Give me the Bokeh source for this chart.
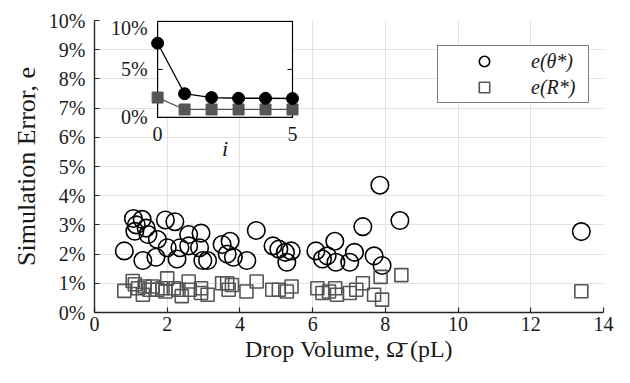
import math
from bokeh.plotting import figure
from bokeh.models import (Range1d, PrintfTickFormatter, FixedTicker, Legend, LegendItem,
                          LabelSet, ColumnDataSource)
from bokeh.core.properties import value
from bokeh.embed import file_html
from bokeh.resources import INLINE

# ---- data ----
theta_x = [0.82, 1.07, 1.31, 1.15, 1.11, 1.42, 1.47, 1.33, 1.73, 1.69, 1.95, 2.21, 2.00, 2.27, 2.35,
           2.59, 2.59, 2.93, 2.89, 2.98, 3.11, 3.51, 3.73, 3.65, 3.82, 4.19, 4.45, 4.91, 5.07, 5.25,
           5.41, 5.29, 6.09, 6.27, 6.40, 6.61, 6.64, 7.02, 7.15, 7.38, 7.69, 7.91, 7.85, 8.40, 13.39]
theta_e = [2.11, 3.22, 3.19, 3.00, 2.78, 2.89, 2.67, 1.78, 2.50, 1.89, 3.17, 3.11, 2.22, 1.83, 2.22,
           2.67, 2.28, 2.72, 2.22, 1.78, 1.78, 2.33, 2.44, 2.00, 1.89, 1.78, 2.81, 2.28, 2.17, 2.06,
           2.11, 1.72, 2.11, 1.83, 1.94, 2.44, 1.72, 1.72, 2.06, 2.94, 1.94, 1.61, 4.36, 3.15, 2.77]
r_x = [0.82, 1.05, 1.11, 1.20, 1.33, 1.38, 1.51, 1.60, 1.73, 1.87, 2.00, 1.95, 2.18, 2.31, 2.40,
       2.59, 2.62, 2.93, 2.93, 3.11, 3.51, 3.65, 3.69, 3.78, 4.18, 4.46, 4.89, 5.07, 5.29, 5.42,
       6.13, 6.27, 6.45, 6.62, 6.67, 7.02, 7.20, 7.38, 7.69, 7.87, 7.91, 8.44, 13.39]
r_e = [0.74, 1.08, 0.97, 0.83, 0.61, 0.89, 0.78, 0.89, 0.78, 0.83, 1.17, 0.72, 0.83, 0.78, 0.56,
       1.06, 0.78, 0.83, 0.67, 0.61, 1.00, 1.00, 0.78, 0.94, 0.72, 1.06, 0.78, 0.78, 0.72, 0.89,
       0.83, 0.67, 0.72, 0.83, 0.61, 0.67, 0.78, 1.00, 0.61, 1.22, 0.44, 1.28, 0.73]

inset_i = [0, 1, 2, 3, 4, 5]
inset_theta = [7.73, 2.47, 2.07, 2.00, 2.00, 1.97]
inset_r = [2.07, 0.83, 0.83, 0.83, 0.83, 0.83]

x_ticks = [0, 2, 4, 6, 8, 10, 12, 14]
y_ticks = [0, 1, 2, 3, 4, 5, 6, 7, 8, 9, 10]
inset_x_ticks = [0, 5]
inset_y_ticks = [0, 5, 10]

labels = ["e(θ*)", "e(R*)"]
x_label = "Drop Volume, Ω\u0304 (pL)"
y_label = "Simulation Error, e"
inset_x_label = "i"

FONT = "Liberation Serif"
DARK = "#262626"
TXT = "#1a1a1a"
GRAY = "#555555"

p = figure(width=614, height=367, output_backend="svg", toolbar_location=None,
           x_range=Range1d(x_ticks[0], x_ticks[-1]), y_range=Range1d(y_ticks[0], y_ticks[-1]),
           min_border_left=94, min_border_right=11, min_border_top=20, min_border_bottom=55)
p.title.visible = False
p.outline_line_color = None
p.background_fill_color = "white"
p.border_fill_color = "white"

for ax in (p.xaxis[0], p.yaxis[0]):
    ax.major_tick_in = 5
    ax.major_tick_out = 0
    ax.minor_tick_line_color = None
    ax.axis_line_color = DARK
    ax.axis_line_width = 1.4
    ax.major_tick_line_color = DARK
    ax.major_tick_line_width = 1.2
    ax.major_label_text_font = FONT
    ax.major_label_text_font_size = "20px"
    ax.major_label_text_color = TXT
    ax.axis_label_text_font = FONT
    ax.axis_label_text_font_style = "normal"
    ax.axis_label_text_color = TXT

p.xaxis.ticker = FixedTicker(ticks=x_ticks)
p.yaxis.ticker = FixedTicker(ticks=y_ticks)
p.yaxis.formatter = PrintfTickFormatter(format="%d%%")
p.xaxis.axis_label = x_label
p.yaxis.axis_label = y_label
p.xaxis.axis_label_text_font_size = "24px"
p.yaxis.axis_label_text_font_size = "26px"
p.xaxis.major_label_standoff = 4
p.xaxis.axis_label_standoff = 2
p.yaxis.major_label_standoff = 9
p.yaxis.axis_label_standoff = 5

p.grid.grid_line_color = "#e2e2e2"
p.grid.grid_line_width = 1

r1 = p.scatter(theta_x, theta_e, marker="circle", size=17.5, fill_color=None,
               line_color="black", line_width=1.6)
r2 = p.scatter(r_x, r_e, marker="square", size=13, fill_color=None,
               line_color=GRAY, line_width=1.6)

# ---- inset (own ranges placed in a corner of the frame) ----
fl, fr, fb, ft = 0.124, 0.389, 0.668, 0.997
span_x = (inset_x_ticks[-1] - inset_x_ticks[0]) / (fr - fl)
ix0 = inset_x_ticks[0] - fl * span_x
span_y = (inset_y_ticks[-1] - inset_y_ticks[0]) / (ft - fb)
iy0 = inset_y_ticks[0] - fb * span_y
p.extra_x_ranges = {"ix": Range1d(ix0, ix0 + span_x)}
p.extra_y_ranges = {"iy": Range1d(iy0, iy0 + span_y)}
kw = dict(x_range_name="ix", y_range_name="iy")

p.quad(left=inset_x_ticks[0], right=inset_x_ticks[-1], bottom=inset_y_ticks[0],
       top=inset_y_ticks[-1], fill_color="white", line_color="black", line_width=1.2, **kw)
p.ray(x=[inset_x_ticks[0]] * len(inset_y_ticks), y=inset_y_ticks, length=5, length_units="screen",
      angle=0, line_color="black", line_width=1, **kw)
p.ray(x=[inset_x_ticks[-1]] * len(inset_y_ticks), y=inset_y_ticks, length=5, length_units="screen",
      angle=math.pi, line_color="black", line_width=1, **kw)

p.line(inset_i, inset_r, line_color=GRAY, line_width=1.3, **kw)
p.scatter(inset_i, inset_r, marker="square", size=11, fill_color=GRAY, line_color=GRAY, **kw)
p.line(inset_i, inset_theta, line_color="black", line_width=1.3, **kw)
p.scatter(inset_i, inset_theta, marker="circle", size=12, fill_color="black", line_color="black", **kw)

top_tick = inset_y_ticks[-1]
ylab_src = ColumnDataSource(dict(x=[inset_x_ticks[0]] * len(inset_y_ticks), y=inset_y_ticks,
                                 t=["%d%%" % t for t in inset_y_ticks],
                                 dy=[-7 if t == top_tick else 0 for t in inset_y_ticks]))
p.add_layout(LabelSet(x="x", y="y", text="t", y_offset="dy", source=ylab_src, x_offset=-10,
                      text_align="right", text_baseline="middle", text_font=value(FONT),
                      text_font_size="20px", text_color=TXT, **kw))
xlab_src = ColumnDataSource(dict(x=inset_x_ticks, y=[inset_y_ticks[0]] * len(inset_x_ticks),
                                 t=["%d" % t for t in inset_x_ticks]))
p.add_layout(LabelSet(x="x", y="y", text="t", source=xlab_src, y_offset=-10,
                      text_align="center", text_baseline="top", text_font=value(FONT),
                      text_font_size="20px", text_color=TXT, **kw))
ilab_src = ColumnDataSource(dict(x=[(inset_x_ticks[0] + inset_x_ticks[-1]) / 2],
                                 y=[inset_y_ticks[0]], t=[inset_x_label]))
p.add_layout(LabelSet(x="x", y="y", text="t", source=ilab_src, y_offset=-19,
                      text_align="center", text_baseline="top", text_font=value(FONT),
                      text_font_style="italic", text_font_size="22px", text_color=TXT, **kw))

legend = Legend(items=[LegendItem(label=labels[0], renderers=[r1]),
                       LegendItem(label=labels[1], renderers=[r2])],
                location=(343, 209), margin=0, padding=2, spacing=0,
                glyph_width=88, glyph_height=26, label_standoff=3, label_width=55,
                label_height=26,
                label_text_font=FONT, label_text_font_style="italic",
                label_text_font_size="20px", label_text_color=TXT,
                border_line_color="black", border_line_width=1.2,
                background_fill_color="white", background_fill_alpha=1.0)
p.add_layout(legend)

open("out.html", "w").write(file_html(p, INLINE))
